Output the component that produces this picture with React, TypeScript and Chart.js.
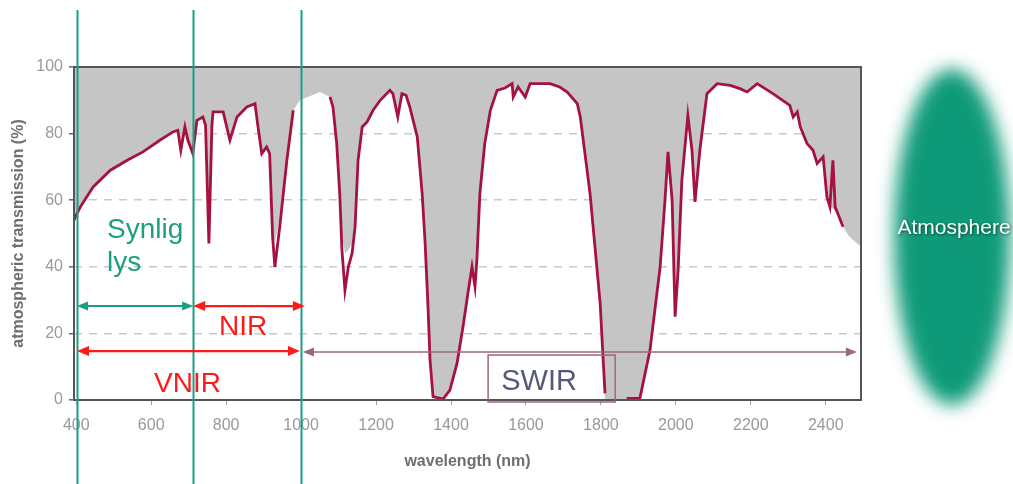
import { useEffect, useRef } from "react";
import { Chart, registerables } from "chart.js";

Chart.register(...registerables);

const FONT = '"Liberation Sans", Arial, Helvetica, sans-serif';

// ---- data -------------------------------------------------------------
const xTickValues = [400, 600, 800, 1000, 1200, 1400, 1600, 1800, 2000, 2200, 2400];
const yTickValues = [0, 20, 40, 60, 80, 100];

// lower envelope (dark red curve), null = gap in the curve
const redWavelength = [
  394, 400, 411, 445, 491, 536, 578, 623, 658, 671, 679, 690, 698, 711, 722, 738, 745, 754, 762, 765,
  792, 810, 829, 855, 877, 885, 895, 908, 916, 924, 930, 943, 962, 979, 1030, 1077, 1085, 1095, 1103,
  1109, 1117, 1126, 1136, 1144, 1152, 1163, 1176, 1192, 1211, 1237, 1245, 1258, 1269, 1280, 1290, 1310,
  1323, 1331, 1339, 1344, 1352, 1379, 1397, 1416, 1432, 1445, 1456, 1464, 1469, 1477, 1490, 1505, 1523,
  1544, 1563, 1566, 1579, 1598, 1611, 1664, 1690, 1710, 1737, 1745, 1771, 1798, 1806, 1811, 1840, 1869,
  1904, 1931, 1958, 1971, 1979, 1990, 1998, 2006, 2016, 2032, 2043, 2051, 2064, 2083, 2110, 2145, 2171,
  2190, 2217, 2238, 2259, 2304, 2313, 2324, 2332, 2350, 2366, 2377, 2393, 2403, 2411, 2419, 2425, 2446,
];
const redTransmission = [
  54, 55.5, 58, 64, 69, 72, 74.5, 78, 80.5, 81, 75, 82, 78, 74, 84, 85, 82.5, 47, 82.5, 86.5,
  86.5, 78, 85, 88, 89, 82, 74, 76, 74, 49, 40, 52, 72, 87, null, 91, 88, 77, 62,
  45, 33, 40, 44, 52, 72, 82, 83.5, 87, 90, 93, 92, 85, 92, 91.5, 88, 79,
  62, 47, 27, 12, 1, 0.3, 3, 11, 22, 32, 40, 34, 42, 62, 77, 87, 93,
  93.7, 95, 91, 94, 91, 95, 95, 94, 92.5, 89, 85, 62, 29, 12, 2, null, 0.5,
  0.5, 15, 40, 60, 74.5, 60, 25, 39, 66, 85.5, 75, 59.5, 75, 92, 95, 94.5, 93.5,
  92.5, 95, 93.5, 92, 88.5, 85, 86.5, 82, 77, 75, 71, 73, 61, 58, 72, 58, 52,
];

// lower bound of the grey band (band is filled up to 100 %)
const greyWavelength = [
  394, 400, 411, 445, 491, 536, 578, 623, 658, 671, 679, 690, 698, 711, 722, 738, 745, 754, 762, 765,
  792, 810, 829, 855, 877, 885, 895, 908, 916, 924, 930, 943, 962, 979, 997, 1050, 1077, 1085, 1095,
  1103, 1109, 1117, 1126, 1136, 1144, 1152, 1163, 1176, 1192, 1211, 1237, 1245, 1258, 1269, 1280, 1290,
  1310, 1323, 1331, 1339, 1344, 1352, 1379, 1397, 1416, 1432, 1445, 1456, 1464, 1469, 1477, 1490, 1505,
  1523, 1544, 1563, 1566, 1579, 1598, 1611, 1664, 1690, 1710, 1737, 1745, 1771, 1798, 1806, 1811, 1904,
  1931, 1958, 1971, 1979, 1990, 1998, 2006, 2016, 2032, 2043, 2051, 2064, 2083, 2110, 2145, 2171, 2190,
  2217, 2238, 2259, 2304, 2313, 2324, 2332, 2350, 2366, 2377, 2393, 2403, 2411, 2425, 2446, 2463, 2494,
];
const greyLower = [
  54, 55.5, 58, 64, 69, 72, 74.5, 78, 80.5, 81, 75, 82, 78, 74, 84, 85, 82.5, 47, 82.5, 86.5,
  86.5, 78, 85, 88, 89, 82, 74, 76, 74, 52, 47, 55, 72, 87, 90, 92.5, 91, 88, 77,
  62, 50, 44, 45, 47, 55, 72, 82, 83.5, 87, 90, 93, 92, 85, 92, 91.5, 88,
  79, 62, 47, 27, 12, 1, 0.3, 3, 11, 22, 32, 40, 34, 42, 62, 77, 87,
  93, 93.7, 95, 91, 94, 91, 95, 95, 94, 92.5, 89, 85, 62, 29, 12, 0, 0,
  15, 40, 60, 74.5, 60, 25, 39, 66, 85.5, 75, 59.5, 75, 92, 95, 94.5, 93.5, 92.5,
  95, 93.5, 92, 88.5, 85, 86.5, 82, 77, 75, 71, 73, 61, 58, 57, 52, 49, 46,
];

// annotation positions (in data units)
const bandEdges = [403, 712, 1001];
const visibleArrow = [402, 712, 28.2];
const nirArrow = [712, 1010, 28.2];
const vnirArrow = [402, 997, 14.7];
const swirArrow = [1005, 2483, 14.4];
const swirBox = [1499, 1838, 13.5, -0.6];

// ---- overlay plugin --------------------------------------------------
function drawArrow(
  ctx: CanvasRenderingContext2D,
  x1: number,
  x2: number,
  y: number,
  color: string,
  width: number,
  headLen: number,
  headHalf: number,
  left: boolean,
  right: boolean
) {
  ctx.save();
  ctx.strokeStyle = color;
  ctx.fillStyle = color;
  ctx.lineWidth = width;
  ctx.beginPath();
  ctx.moveTo(x1 + (left ? headLen - 2 : 0), y);
  ctx.lineTo(x2 - (right ? headLen - 2 : 0), y);
  ctx.stroke();
  if (left) {
    ctx.beginPath();
    ctx.moveTo(x1, y);
    ctx.lineTo(x1 + headLen, y - headHalf);
    ctx.lineTo(x1 + headLen, y + headHalf);
    ctx.closePath();
    ctx.fill();
  }
  if (right) {
    ctx.beginPath();
    ctx.moveTo(x2, y);
    ctx.lineTo(x2 - headLen, y - headHalf);
    ctx.lineTo(x2 - headLen, y + headHalf);
    ctx.closePath();
    ctx.fill();
  }
  ctx.restore();
}

const overlayPlugin = {
  id: "overlay",
  afterDatasetsDraw(chart: any) {
    const { ctx, chartArea } = chart;
    ctx.save();
    ctx.strokeStyle = "#555555";
    ctx.lineWidth = 2;
    ctx.strokeRect(chartArea.left, chartArea.top, chartArea.right - chartArea.left, chartArea.bottom - chartArea.top);
    ctx.restore();
  },
  afterDraw(chart: any) {
    const { ctx } = chart;
    const xs = chart.scales.x;
    const ys = chart.scales.y;
    const px = (v: number) => xs.getPixelForValue(v);
    const py = (v: number) => ys.getPixelForValue(v);
    const green = "#1b9f82";
    const red = "#ff1a1a";
    const mauve = "#9b6878";

    // SWIR box
    ctx.save();
    ctx.strokeStyle = mauve;
    ctx.lineWidth = 1.5;
    ctx.strokeRect(px(swirBox[0]), py(swirBox[2]), px(swirBox[1]) - px(swirBox[0]), py(swirBox[3]) - py(swirBox[2]));
    ctx.restore();

    // vertical band edges across the whole picture
    ctx.save();
    ctx.strokeStyle = green;
    ctx.lineWidth = 2;
    for (const e of bandEdges) {
      const x = Math.round(px(e)) + 0.5;
      ctx.beginPath();
      ctx.moveTo(x, 10);
      ctx.lineTo(x, chart.height);
      ctx.stroke();
    }
    ctx.restore();

    drawArrow(ctx, px(visibleArrow[0]), px(visibleArrow[1]), py(visibleArrow[2]), green, 2, 11, 4.5, true, true);
    drawArrow(ctx, px(nirArrow[0]), px(nirArrow[1]), py(nirArrow[2]), red, 2.2, 12, 5, true, true);
    drawArrow(ctx, px(vnirArrow[0]), px(vnirArrow[1]), py(vnirArrow[2]), red, 2.2, 12, 5, true, true);
    drawArrow(ctx, px(swirArrow[0]), px(swirArrow[1]), py(swirArrow[2]), mauve, 1.6, 11, 4.5, true, true);

    // labels
    ctx.save();
    ctx.textBaseline = "alphabetic";
    ctx.font = `28px ${FONT}`;
    ctx.fillStyle = green;
    ctx.textAlign = "left";
    ctx.fillText("Synlig", px(482), py(48.6));
    ctx.fillText("lys", px(482), py(38.7));
    ctx.fillStyle = red;
    ctx.textAlign = "center";
    ctx.fillText("NIR", px(845), py(19.5));
    ctx.fillText("VNIR", px(697), py(2.4));
    ctx.fillStyle = "#56587a";
    ctx.font = `29px ${FONT}`;
    ctx.fillText("SWIR", px(1635), py(3));
    ctx.restore();

    // atmosphere ellipse
    ctx.save();
    ctx.filter = "blur(9px)";
    ctx.fillStyle = "#0e9a78";
    ctx.beginPath();
    ctx.ellipse(952, 237, 58, 168, 0, 0, Math.PI * 2);
    ctx.fill();
    ctx.restore();

    ctx.save();
    ctx.font = `21px ${FONT}`;
    ctx.fillStyle = "#ffffff";
    ctx.textAlign = "center";
    ctx.textBaseline = "alphabetic";
    ctx.shadowColor = "rgba(0,0,0,0.55)";
    ctx.shadowBlur = 3;
    ctx.shadowOffsetX = 1;
    ctx.shadowOffsetY = 1;
    ctx.fillText("Atmosphere", 954, 234);
    ctx.restore();
  },
};

export default function App() {
  const ref = useRef<HTMLCanvasElement>(null);

  useEffect(() => {
    document.body.style.margin = "0";
    const canvas = ref.current;
    if (!canvas) return;

    const redData = redWavelength.map((x, i) => ({ x, y: redTransmission[i] }));
    const greyData = greyWavelength.map((x, i) => ({ x, y: greyLower[i] }));

    const chart = new Chart(canvas, {
      type: "line",
      data: {
        datasets: [
          {
            label: "transmission",
            data: redData as any,
            borderColor: "#a5123f",
            borderWidth: 2.8,
            pointRadius: 0,
            fill: false,
            tension: 0,
            spanGaps: false,
            order: 1,
          },
          {
            label: "range",
            data: greyData as any,
            borderWidth: 0,
            borderColor: "rgba(0,0,0,0)",
            backgroundColor: "#c5c5c5",
            pointRadius: 0,
            fill: "end",
            tension: 0,
            order: 2,
          },
        ],
      },
      options: {
        responsive: false,
        animation: false,
        events: [],
        layout: { padding: { left: 0, top: 67, right: 152, bottom: 0 } },
        plugins: {
          legend: { display: false },
          tooltip: { enabled: false },
        },
        scales: {
          x: {
            type: "linear",
            min: 394,
            max: 2494,
            afterBuildTicks: (scale: any) => {
              scale.ticks = xTickValues.map((v) => ({ value: v }));
            },
            afterFit: (scale: any) => {
              scale.height = 84;
            },
            grid: {
              drawOnChartArea: false,
              drawTicks: true,
              tickLength: 5,
              tickColor: "#a0a0a0",
              tickWidth: 1,
            },
            border: { display: false },
            ticks: {
              autoSkip: false,
              maxRotation: 0,
              padding: 11,
              color: "#999999",
              font: { family: FONT, size: 16 },
              callback: (v: any) => String(v),
            },
            title: {
              display: true,
              text: "wavelength (nm)",
              color: "#6f6f6f",
              font: { family: FONT, size: 16, weight: "bold" },
              padding: { top: 0, bottom: 13 },
            },
          },
          y: {
            type: "linear",
            min: 0,
            max: 100,
            afterBuildTicks: (scale: any) => {
              scale.ticks = yTickValues.map((v) => ({ value: v }));
            },
            afterFit: (scale: any) => {
              scale.width = 74;
            },
            grid: {
              drawOnChartArea: true,
              drawTicks: true,
              tickLength: 5,
              tickColor: "#666666",
              tickWidth: 1.5,
              lineWidth: 1.6,
              color: (c: any) =>
                c.tick && c.tick.value > 0 && c.tick.value < 100 ? "#c9c9c9" : "rgba(0,0,0,0)",
            },
            border: { display: false, dash: [8, 7] },
            ticks: {
              padding: 6,
              color: "#999999",
              font: { family: FONT, size: 16 },
              callback: (v: any) => String(v),
            },
            title: {
              display: true,
              text: "atmospheric transmission (%)",
              color: "#6f6f6f",
              font: { family: FONT, size: 16, weight: "bold" },
              padding: { top: 9, bottom: 0 },
            },
          },
        },
      },
      plugins: [overlayPlugin],
    });

    return () => chart.destroy();
  }, []);

  return (
    <div style={{ position: "absolute", left: 0, top: 0, width: 1013, height: 484, background: "#ffffff" }}>
      <canvas ref={ref} width={1013} height={484} style={{ display: "block", width: 1013, height: 484 }} />
    </div>
  );
}
